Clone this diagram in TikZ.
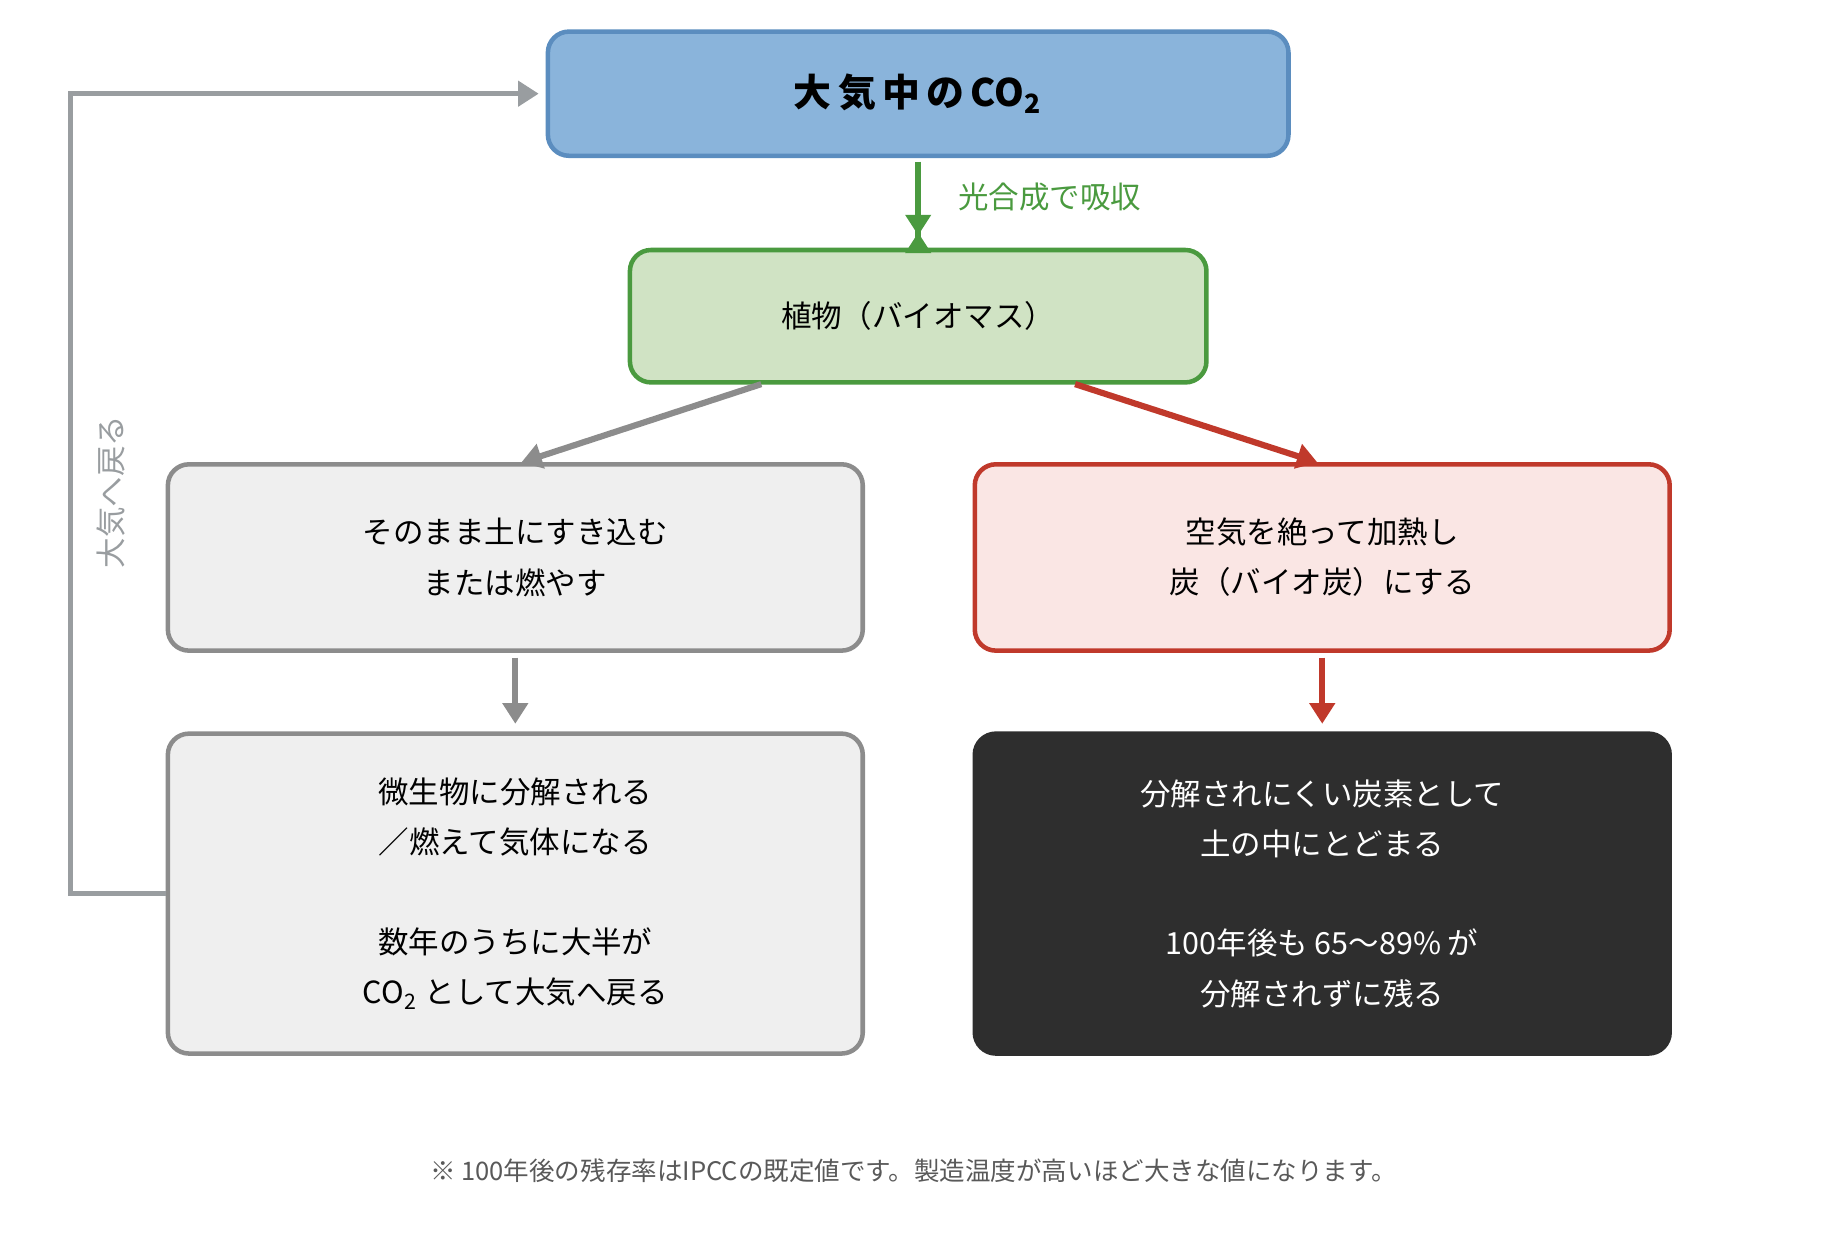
\documentclass[tikz,border=0pt]{standalone}
\usepackage{fontspec}
\setmainfont{Noto Sans CJK JP}
\usetikzlibrary{positioning,arrows.meta}
\definecolor{skyfill}{HTML}{8AB4DB}
\definecolor{skyline}{HTML}{5B8DBF}
\definecolor{leaffill}{HTML}{D0E3C4}
\definecolor{leafline}{HTML}{4A9A3F}
\definecolor{ashfill}{HTML}{EFEFEF}
\definecolor{ashline}{HTML}{8C8C8C}
\definecolor{charfill}{HTML}{FAE6E4}
\definecolor{charline}{HTML}{C0392B}
\definecolor{coal}{HTML}{2E2E2E}
\definecolor{loopline}{HTML}{999DA0}
\tikzset{
    box/.style={draw, line width=1.1pt, rounded corners=0.18cm, align=center,
        font=\fontsize{7.4}{12.2}\selectfont, inner sep=0pt},
    flow/.style={-{Triangle[length=5pt,width=6pt]}, line width=1.5pt},
}
\begin{document}
\begin{tikzpicture}[x=0.01cm,y=-0.01cm]
    \useasboundingbox (0,0) rectangle (1560,1058);
    %boxes
    \node[box, fill=skyfill, draw=skyline, minimum width=6.32cm, minimum height=1.06cm,
        font=\fontsize{9.2}{11}\selectfont\bfseries] (air) at (784,80)
        {大\,気\,中\,の\,CO\textsubscript{2}};
    \node[box, fill=leaffill, draw=leafline, minimum width=4.92cm, minimum height=1.13cm]
        (plant) at (784,270) {植物（バイオマス）};
    \node[box, fill=ashfill, draw=ashline, minimum width=5.93cm, minimum height=1.59cm]
        (burn) at (440,476) {そのまま土にすき込む\\または燃やす};
    \node[box, fill=charfill, draw=charline, minimum width=5.93cm, minimum height=1.59cm]
        (char) at (1129,476) {空気を絶って加熱し\\炭（バイオ炭）にする};
    \node[box, fill=ashfill, draw=ashline, minimum width=5.93cm, minimum height=2.73cm]
        (decay) at (440,763) {微生物に分解される\\／燃えて気体になる\\[12pt]数年のうちに大半が\\CO\textsubscript{2} として大気へ戻る};
    \node[box, fill=coal, draw=coal, text=white, minimum width=5.93cm, minimum height=2.73cm]
        (store) at (1129,763) {分解されにくい炭素として\\土の中にとどまる\\[12pt]100年後も 65〜89\% が\\分解されずに残る};
    %arrows
    \draw[flow, leafline] (air.south) ++(0,5) coordinate (a1) -- (plant.north) ++(0,-13);
    \draw[flow, leafline] (784,138) -- (784,201);
    \node[text=leafline, font=\fontsize{7.4}{9}\selectfont, anchor=west] (absorb) at (806,168) {光合成で吸収};
    \draw[flow, ashline] (650,328) -- (445,395);
    \draw[flow, charline] (918,328) -- (1125,395);
    \draw[flow, ashline] (burn.south) ++(0,4) -- (440,618);
    \draw[flow, charline] (char.south) ++(0,4) -- (1129,618);
    %loop back to air
    \coordinate (back) at (460,80);
    \draw[-{Triangle[length=5pt,width=6pt]}, line width=1.3pt, loopline]
        (decay.west) -| (60,80) -- (back);
    \node[rotate=90, text=loopline, font=\fontsize{7.4}{9}\selectfont] (backlabel) at (95,420) {大気へ戻る};
    %footnote
    \node[text=black!65, font=\fontsize{6.2}{8}\selectfont] (note) at (780,1000)
        {※ 100年後の残存率はIPCCの既定値です。製造温度が高いほど大きな値になります。};
\end{tikzpicture}
\end{document}
